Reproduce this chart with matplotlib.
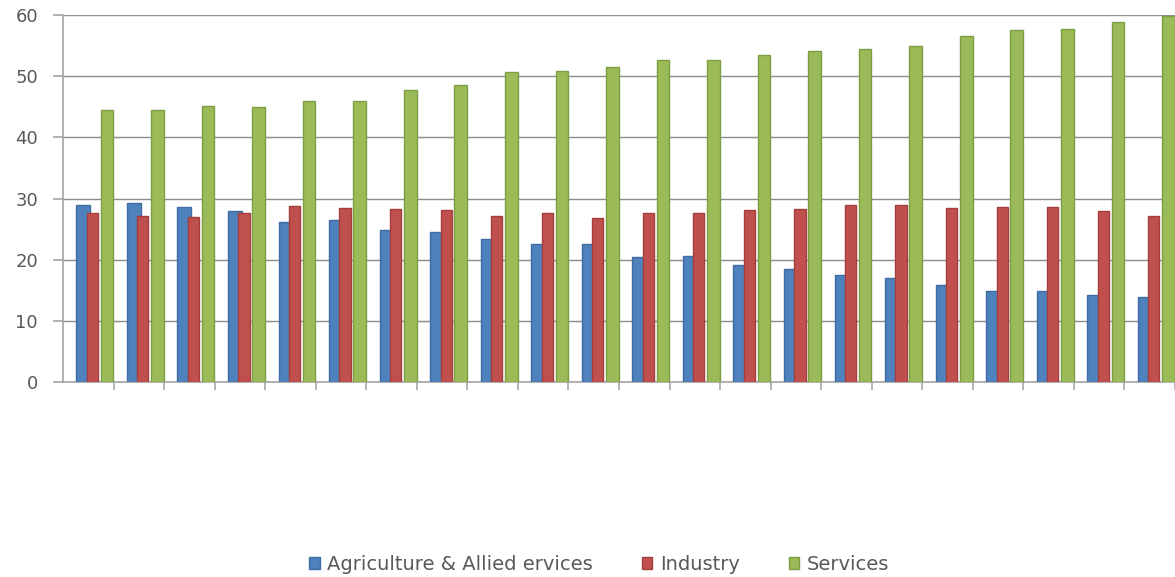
import matplotlib
matplotlib.use("Agg")
import matplotlib.pyplot as plt
import numpy as np

series_names = ["Agriculture & Allied ervices", "Industry", "Services"]
agriculture = [28.9, 29.2, 28.6, 28.0, 26.1, 26.5, 24.8, 24.6, 23.4, 22.5, 22.6,
               20.5, 20.6, 19.2, 18.5, 17.5, 17.0, 15.9, 14.9, 14.8, 14.3, 13.9]
industry = [27.7, 27.1, 27.0, 27.7, 28.7, 28.4, 28.3, 28.2, 27.1, 27.6, 26.8,
            27.7, 27.7, 28.2, 28.3, 29.0, 29.0, 28.5, 28.6, 28.6, 27.9, 27.1]
services = [44.4, 44.4, 45.1, 44.9, 46.0, 45.9, 47.8, 48.6, 50.6, 50.8, 51.5,
            52.7, 52.7, 53.4, 54.1, 54.4, 54.9, 56.6, 57.5, 57.7, 58.8, 59.9]
y_ticks = [0, 10, 20, 30, 40, 50, 60]

colors = ["#4F81BD", "#C0504D", "#9BBB59"]
edges = ["#3F6CA3", "#A23E3B", "#7E9E44"]

fig = plt.figure(figsize=(11.75, 5.77), dpi=100)
ax = fig.add_axes([63 / 1175, 195 / 577, 1112 / 1175, 367 / 577])

n = len(agriculture)
x = np.arange(n) + 0.5
offsets = [-0.1, 0.08, 0.37]
widths = [0.27, 0.22, 0.25]
for vals, off, w, c, e, name in zip([agriculture, industry, services], offsets, widths,
                                    colors, edges, series_names):
    ax.bar(x + off, vals, width=w, color=c, edgecolor=e, linewidth=1.0,
           label=name, zorder=3)

ax.set_xlim(0, n)
ax.set_ylim(0, 60)
ax.set_yticks(y_ticks)
ax.set_xticks(np.arange(1, n + 1))
ax.set_xticklabels([])
ax.grid(axis="y", color="#8C8C8C", linewidth=1.0, zorder=0)
for s in ["top", "right"]:
    ax.spines[s].set_visible(False)
ax.spines["left"].set_color("#A6A6A6")
ax.spines["bottom"].set_color("#A6A6A6")
ax.spines["left"].set_linewidth(1.2)
ax.spines["bottom"].set_linewidth(1.2)
ax.tick_params(axis="y", length=7, width=1.2, color="#A6A6A6", pad=11,
               labelsize=13, labelcolor="#595959")
ax.tick_params(axis="x", length=6, width=1.2, color="#A6A6A6", direction="out")
for lab in ax.get_yticklabels():
    lab.set_fontfamily("DejaVu Sans")

leg = fig.legend(loc="center", bbox_to_anchor=(0.51, 0.022), ncol=3, frameon=False,
                 handlelength=0.55, handleheight=0.55, handletextpad=0.4,
                 columnspacing=2.5, prop={"family": "DejaVu Sans", "size": 14})
for t in leg.get_texts():
    t.set_color("#595959")

fig.savefig("out.png", dpi=100)
